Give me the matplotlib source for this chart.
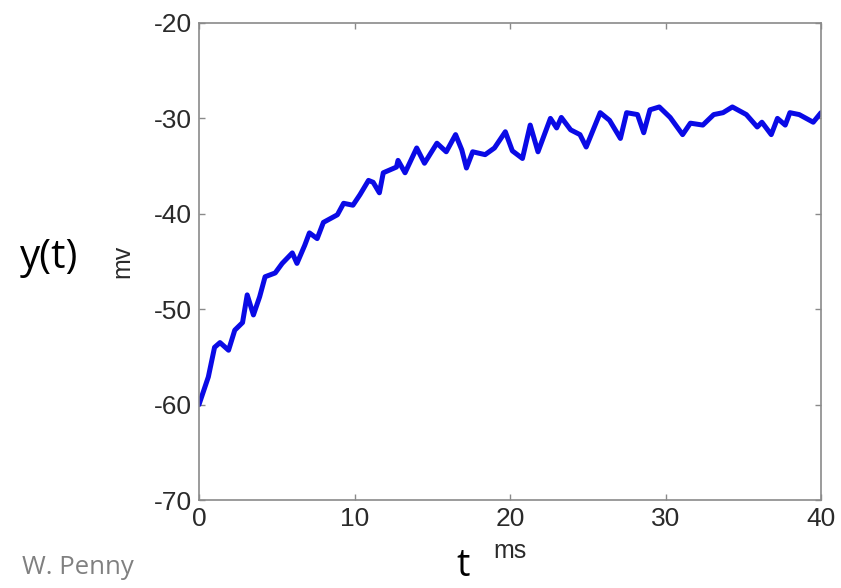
import matplotlib
matplotlib.use("Agg")
import matplotlib.pyplot as plt

plt.rcParams['axes.unicode_minus'] = False

# membrane potential trace
t_ms = [0, 0.6, 1.0, 1.35, 1.9, 2.3, 2.8, 3.1, 3.5, 3.9, 4.25, 4.9, 5.35, 6.0,
        6.3, 6.8, 7.1, 7.6, 8.0, 8.9, 9.3, 9.9, 10.35, 10.9, 11.2, 11.6, 11.85,
        12.7, 12.8, 13.25, 14.0, 14.5, 15.3, 15.9, 16.5, 16.9, 17.2, 17.6,
        18.4, 19.0, 19.7, 20.15, 20.8, 21.3, 21.8, 22.6, 23.0, 23.3, 23.9,
        24.5, 24.9, 25.8, 26.4, 27.1, 27.5, 28.2, 28.6, 29.0, 29.6, 30.3,
        31.1, 31.6, 32.4, 33.1, 33.7, 34.3, 35.2, 35.9, 36.2, 36.8, 37.2,
        37.7, 38.0, 38.6, 39.5, 40.0]
y_mv = [-60.0, -57.1, -54.0, -53.5, -54.3, -52.2, -51.4, -48.5, -50.6, -48.7,
        -46.6, -46.2, -45.2, -44.1, -45.2, -43.3, -42.0, -42.6, -40.9, -40.1,
        -38.9, -39.1, -38.0, -36.5, -36.7, -37.8, -35.7, -35.1, -34.4, -35.7,
        -33.1, -34.7, -32.6, -33.5, -31.7, -33.3, -35.2, -33.5, -33.8, -33.1,
        -31.4, -33.4, -34.2, -30.7, -33.5, -30.0, -31.0, -29.9, -31.2, -31.7,
        -33.0, -29.4, -30.2, -32.1, -29.4, -29.6, -31.5, -29.1, -28.8, -29.9,
        -31.7, -30.5, -30.7, -29.6, -29.4, -28.8, -29.6, -30.9, -30.4, -31.7,
        -30.0, -30.7, -29.4, -29.6, -30.4, -29.4]

x_ticks = [0, 10, 20, 30, 40]
y_ticks = [-70, -60, -50, -40, -30, -20]

W, H = 841, 588
fig = plt.figure(figsize=(W / 100, H / 100), dpi=100)
ax = fig.add_axes([199 / W, 1 - 500 / H, (821 - 199) / W, (500 - 23) / H])

ax.plot(t_ms, y_mv, color='#0a0ae6', lw=3.6, solid_joinstyle='round',
        solid_capstyle='round')

ax.set_xlim(0, 40)
ax.set_ylim(-70, -20)
ax.set_xticks(x_ticks)
ax.set_yticks(y_ticks)
for s in ax.spines.values():
    s.set_color('#8a8a8a')
    s.set_linewidth(1.2)
ax.tick_params(direction='in', length=4, width=1, color='#8a8a8a',
               top=True, right=True, labelsize=19, labelcolor='#2a2a2a', pad=5)
for lab in ax.get_xticklabels() + ax.get_yticklabels():
    lab.set_family('Liberation Sans')

ax.set_xlabel('ms', fontsize=18, family='Liberation Sans', color='#2a2a2a', labelpad=6)
ax.set_ylabel('mv', fontsize=18, family='Liberation Sans', color='#2a2a2a', labelpad=14)

fig.text(20 / W, 1 - 258 / H, 'y(t)', fontsize=29, family='Open Sans',
         va='center', ha='left', color='black')
fig.text(22 / W, 1 - 568 / H, 'W. Penny', fontsize=18.5, family='Open Sans',
         va='center', ha='left', color='#808080')
fig.text(463 / W, 1 - 566 / H, 't', fontsize=27, family='Open Sans',
         va='center', ha='center', color='black')

fig.savefig('out.png', dpi=100)
